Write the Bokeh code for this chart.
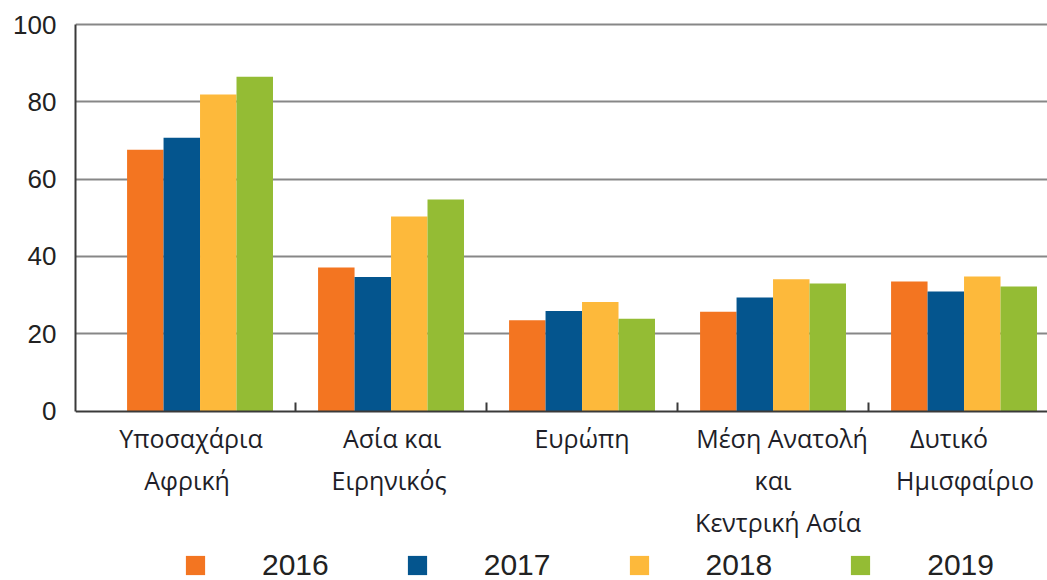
import numpy as np
from bokeh.plotting import figure
from bokeh.models import (ColumnDataSource, Range1d, LinearAxis, FixedTicker,
                          Legend, LegendItem)
from bokeh.core.properties import value
from bokeh.embed import file_html
from bokeh.resources import INLINE

# ---- data ----
regions = ["Υποσαχάρια\nΑφρική", "Ασία και\nΕιρηνικός", "Ευρώπη",
           "Μέση Ανατολή\nκαι\nΚεντρική Ασία", "Δυτικό\nΗμισφαίριο"]
years = ["2016", "2017", "2018", "2019"]
v2016 = [67.6, 37.1, 23.5, 25.7, 33.5]
v2017 = [70.7, 34.7, 25.9, 29.4, 30.9]
v2018 = [81.9, 50.3, 28.2, 34.1, 34.8]
v2019 = [86.5, 54.7, 23.9, 33.0, 32.2]
y_ticks = [0, 20, 40, 60, 80, 100]

series = [v2016, v2017, v2018, v2019]
colors = ["#F37521", "#04558E", "#FDB93B", "#94BC34"]

# small horizontal nudges (px) of each label line, as in the original layout
label_nudges = [[-9, -13], [1, -2], [0], [9, 0, 5], [-15, 1]]

n = len(regions)
centers = np.arange(n) + 0.5
bar_w = 0.191
offsets = [-1.5 * bar_w, -0.5 * bar_w, 0.5 * bar_w, 1.5 * bar_w]

p = figure(width=1047, height=580, output_backend="svg", toolbar_location=None,
           x_range=Range1d(-0.152, 4.937), y_range=Range1d(-43.85, 102.07),
           x_axis_location=None, min_border_left=75, min_border_right=0,
           min_border_top=16, min_border_bottom=0)
p.outline_line_color = None
p.xgrid.visible = False
p.background_fill_color = "white"

# y axis
yax = p.yaxis[0]
yax.ticker = FixedTicker(ticks=y_ticks)
yax.bounds = (0, 100)
yax.axis_line_color = "#3a3a3a"
yax.axis_line_width = 2
yax.major_tick_in = 0
yax.major_tick_out = 0
yax.minor_tick_line_color = None
yax.major_label_text_font = "Liberation Sans"
yax.major_label_text_font_size = "26px"
yax.major_label_text_color = "#222222"
yax.major_label_standoff = 19

p.ygrid.ticker = FixedTicker(ticks=y_ticks[1:])
p.ygrid.grid_line_color = "#878787"
p.ygrid.grid_line_width = 2

# bars
renderers = []
for vals, off, col in zip(series, offsets, colors):
    src = ColumnDataSource(dict(x=centers + off, top=vals))
    r = p.vbar(x="x", top="top", bottom=0, width=bar_w, source=src,
               fill_color=col, line_color=None)
    renderers.append(r)

# x axis at y=0 with separators at category boundaries
sep_ticks = list(range(1, n))
xax = LinearAxis(fixed_location=0,
                 ticker=FixedTicker(ticks=sep_ticks),
                 major_label_overrides={t: "" for t in sep_ticks},
                 major_tick_in=9, major_tick_out=0,
                 major_tick_line_color="#3a3a3a", major_tick_line_width=2,
                 axis_line_color="#3a3a3a", axis_line_width=2,
                 minor_tick_line_color=None)
p.add_layout(xax, "below")

# category labels
lx, ly, lt, lyo, lxo = [], [], [], [], []
line_offsets = [26.5, 68.5, 110.5]
for c, lab, nud in zip(centers, regions, label_nudges):
    for k, line in enumerate(lab.split("\n")):
        lx.append(c)
        ly.append(0)
        lt.append(line)
        lyo.append(line_offsets[k])
        lxo.append(nud[k])
lsrc = ColumnDataSource(dict(x=lx, y=ly, text=lt, yo=lyo, xo=lxo))
p.text(x="x", y="y", text="text", y_offset="yo", x_offset="xo", source=lsrc,
       text_font=value("Open Sans"), text_font_size="25px",
       text_color="#1e1e28", text_align="center", text_baseline="middle")

# legend
legend = Legend(items=[LegendItem(label=yr, renderers=[r]) for yr, r in zip(years, renderers)],
                orientation="horizontal", location=(108, -2),
                glyph_width=24, glyph_height=24, label_standoff=55,
                spacing=76, padding=0, margin=0,
                label_text_font="Liberation Sans", label_text_font_size="30px",
                label_text_color="#222222",
                border_line_color=None, background_fill_alpha=0)
p.add_layout(legend, "center")

open("out.html", "w").write(file_html(p, INLINE))
